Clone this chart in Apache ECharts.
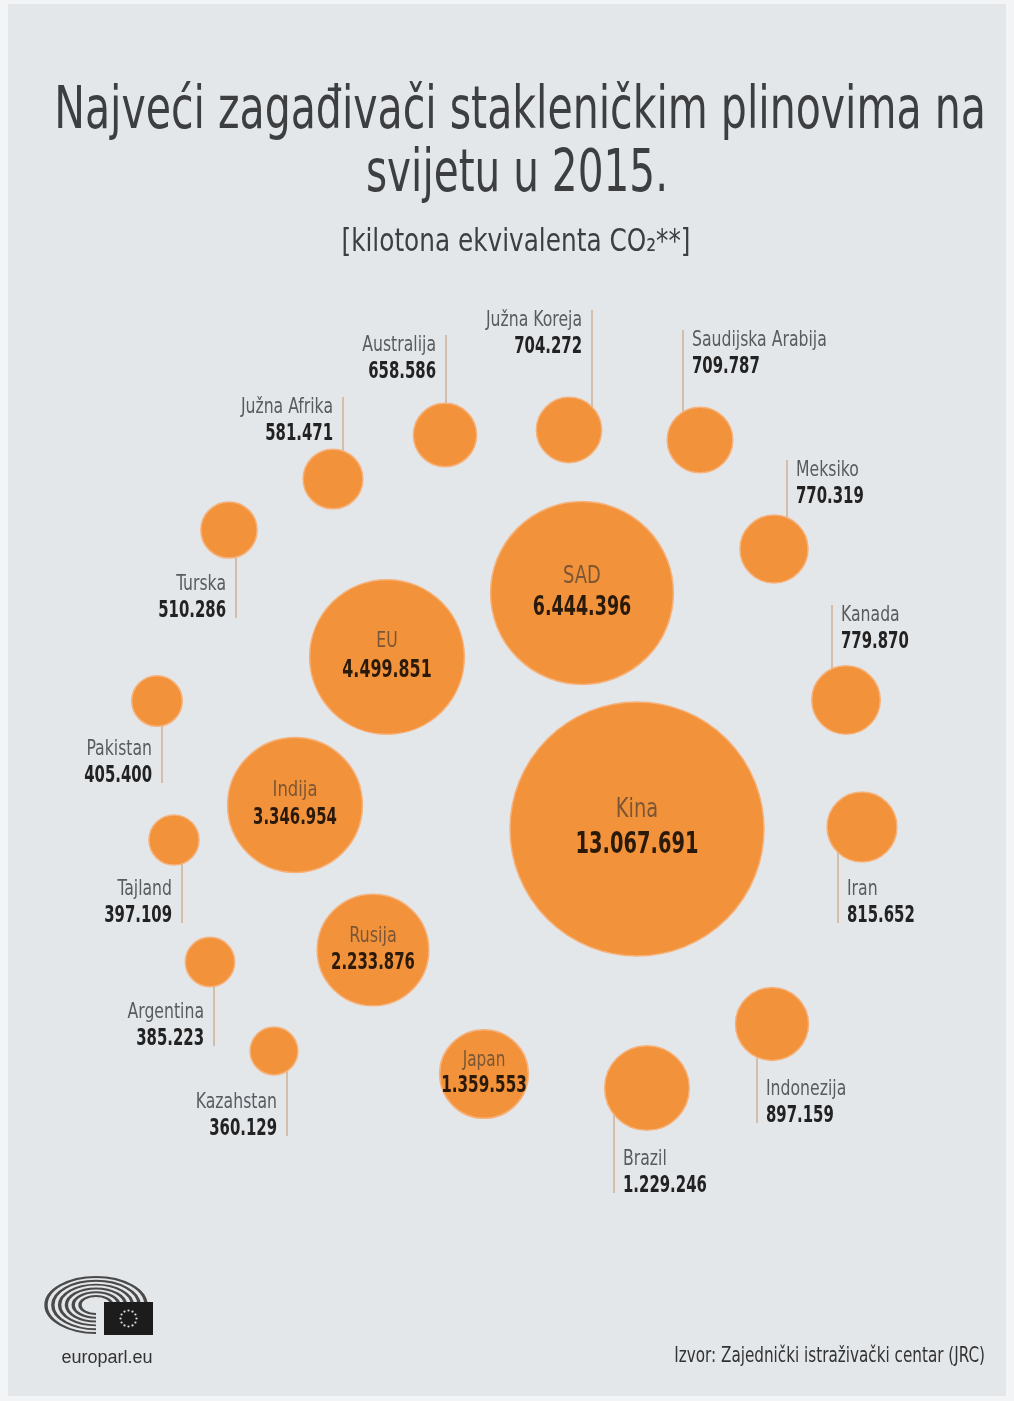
<!DOCTYPE html>
<html><head><meta charset="utf-8">
<script src="https://cdn.jsdelivr.net/npm/echarts@6/dist/echarts.min.js"></script>
<style>html,body{margin:0;padding:0;background:#f3f4f5}#c{width:1014px;height:1401px}</style>
</head><body><div id="c"></div>
<script>
// ---- data ----
const countries = ['Kina','SAD','EU','Indija','Rusija','Japan','Brazil','Indonezija','Iran','Kanada','Meksiko','Saudijska Arabija','Južna Koreja','Australija','Južna Afrika','Turska','Pakistan','Tajland','Argentina','Kazahstan'];
const emissions = [13067691, 6444396, 4499851, 3346954, 2233876, 1359553, 1229246, 897159, 815652, 779870, 770319, 709787, 704272, 658586, 581471, 510286, 405400, 397109, 385223, 360129];
const titleLines = ['Najveći zagađivači stakleničkim plinovima na', 'svijetu u 2015.'];
const subtitleText = '[kilotona ekvivalenta CO₂**]';
const sourceText = 'Izvor: Zajednički istraživački centar (JRC)';
const siteText = 'europarl.eu';

// ---- layout (page units) ----
const centers = [[637,829],[582,593],[387,657],[295,805],[373,950],[484,1074],[647,1088],[772,1024],[862,827],[846,700],[774,549],[700,440],[569,430],[445,435],[333,479],[229,530],[157,701],[174,840],[210,962],[274,1051]];
// [lineX, lineEndY, textSide]
const callouts = [null,null,null,null,null,null,
  [614,1193,'right'],[757,1123,'right'],[838,923,'right'],[832,605,'right'],[787,460,'right'],[683,330,'right'],
  [592,310,'left'],[446,335,'left'],[343,397,'left'],[236,618,'left'],[162,783,'left'],[182,923,'left'],[214,1046,'left'],[287,1136,'left']];
// inner label font sizes [name, value]
const innerFont = [[26,30],[24,27],[21,24.5],[22,23],[21.5,23],[20.5,23.5]];

const FONT = '"Liberation Sans Narrow","DejaVu Sans Condensed","Open Sans",sans-serif';
const NAME_SX = 0.83, VAL_SX = 0.72;
function fmt(v){ return String(v).replace(/\B(?=(\d{3})+(?!\d))/g,'.'); }
const maxV = Math.max.apply(null, emissions);
function radius(v){ return 127*Math.pow(v/maxV, 0.465); }

function txt(text, x, y, align, size, weight, color, sx){
  return {type:'text', x:x, y:y, scaleX:sx,
    style:{text:text, x:0, y:0, align:align, verticalAlign:'middle', fill:color, fontSize:size, fontWeight:weight, fontFamily:FONT}};
}

const seriesData = countries.map((c,i)=>({name:c, value:[centers[i][0], centers[i][1], emissions[i]]}));

function renderItem(params, api){
  const i = params.dataIndex;
  const p = api.coord([api.value(0), api.value(1)]);
  const v = api.value(2);
  const r = api.size([radius(v), 0])[0];
  const children = [];
  const co = callouts[i];
  if (co){
    const e = api.coord([co[0], co[1]]);
    children.push({type:'line', shape:{x1:e[0], y1:p[1], x2:e[0], y2:e[1]}, style:{stroke:'#cdb196', lineWidth:1.5}});
    const above = e[1] < p[1];
    const ny = above ? e[1]+11 : e[1]-33;
    const vy = above ? e[1]+37 : e[1]-7;
    const tx = co[2]==='left' ? e[0]-10 : e[0]+9;
    const al = co[2]==='left' ? 'right' : 'left';
    children.push(txt(countries[i], tx, ny, al, 21, 'normal', '#585b5f', NAME_SX));
    children.push(txt(fmt(v), tx, vy, al, 23, 'bold', '#222222', VAL_SX));
  }
  children.push({type:'circle', shape:{cx:p[0], cy:p[1], r:r}, style:{fill:'#f2923a', stroke:'#f6b27c', lineWidth:1.5}});
  if (!co){
    const f = innerFont[i];
    children.push(txt(countries[i], p[0], p[1]-(0.07*r+10), 'center', f[0], 'normal', '#7c5634', NAME_SX));
    children.push(txt(fmt(v), p[0], p[1]+(0.05*r+10), 'center', f[1], 'bold', '#2a1a0c', VAL_SX));
  }
  return {type:'group', children:children};
}

// logo graphic
const logo = [];
for (let k=0;k<6;k++){
  const rr = 16 + k*6.8;
  logo.push({type:'arc', shape:{cx:0, cy:0, r:rr, startAngle:Math.PI*0.5, endAngle:Math.PI*2.05, clockwise:true}, style:{stroke:'#4a4a4a', lineWidth:3.4, fill:null}});
}
const stars = [];
for (let k=0;k<12;k++){
  const a = k*Math.PI/6;
  stars.push({type:'circle', shape:{cx:128.5+Math.cos(a)*8, cy:1318.5+Math.sin(a)*8, r:1.1}, style:{fill:'#e0e0e0'}});
}

const chart = echarts.init(document.getElementById('c'));
chart.setOption({
  backgroundColor:'#f3f4f5',
  animation:false,
  grid:{left:0,right:0,top:0,bottom:0},
  xAxis:{type:'value', min:0, max:1014, show:false},
  yAxis:{type:'value', min:0, max:1401, inverse:true, show:false},
  graphic:[
    {type:'rect', z:-10, shape:{x:8,y:4,width:998,height:1392}, style:{fill:'#e4e7ea'}},
    {type:'text', x:520, y:113, scaleX:0.773, style:{text:titleLines[0], x:0, y:0, align:'center', verticalAlign:'middle', fill:'#3c3e40', fontSize:59, fontFamily:FONT}},
    {type:'text', x:517, y:176, scaleX:0.765, style:{text:titleLines[1], x:0, y:0, align:'center', verticalAlign:'middle', fill:'#3c3e40', fontSize:59, fontFamily:FONT}},
    {type:'text', x:516, y:243, scaleX:0.86, style:{text:subtitleText, x:0, y:0, align:'center', verticalAlign:'middle', fill:'#3c3e40', fontSize:32, fontFamily:FONT}},
    {type:'text', x:985, y:1357, scaleX:0.825, style:{text:sourceText, x:0, y:0, align:'right', verticalAlign:'middle', fill:'#333', fontSize:20.5, fontFamily:FONT}},
    {type:'text', style:{text:siteText, x:107, y:1358, align:'center', verticalAlign:'middle', fill:'#333', fontSize:18, fontFamily:'"Liberation Sans",Arial,sans-serif'}},
    {type:'group', x:96, y:1305, scaleX:1, scaleY:0.56, children:logo},
    {type:'rect', shape:{x:104,y:1302,width:49,height:33}, style:{fill:'#1c1c1c'}},
    {type:'group', children:stars}
  ],
  series:[{type:'custom', coordinateSystem:'cartesian2d', renderItem:renderItem, data:seriesData, encode:{x:0,y:1}}]
});
</script></body></html>
